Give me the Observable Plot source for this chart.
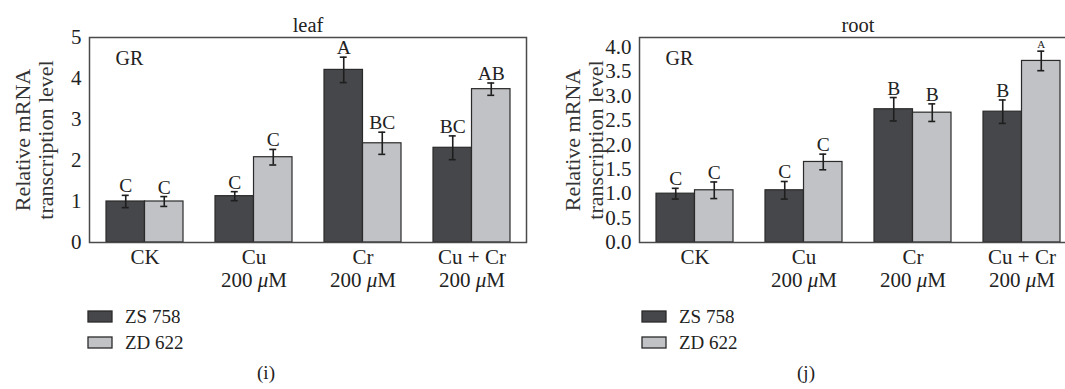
<!DOCTYPE html>
<html>
<head>
<meta charset="utf-8">
<script src="https://cdn.jsdelivr.net/npm/d3@7"></script>
<script src="https://cdn.jsdelivr.net/npm/@observablehq/plot@0.6"></script>
<style>
  html, body { margin: 0; padding: 0; background: #fff; overflow: hidden; width: 1065px; height: 389px; }
  body { position: relative; font-family: "Liberation Serif", serif; color: #222; }
  .panel { position: absolute; top: 0; width: 550px; }
  .legend { position: absolute; top: 306px; }
  .caption { position: absolute; top: 362px; font-size: 19px; transform: translateX(-50%); }
</style>
</head>
<body>
<div id="left" class="panel" style="left:0px"></div>
<div id="right" class="panel" style="left:550px"></div>
<div id="legLeft" class="legend" style="left:88px"></div>
<div id="legRight" class="legend" style="left:642px"></div>
<div class="caption" style="left:266px">(i)</div>
<div class="caption" style="left:806px">(j)</div>
<script>
// ---- data ----
const categories = ["CK", "Cu", "Cr", "Cu + Cr"];
const tickLabels = ["CK", "Cu\n200 μM", "Cr\n200 μM", "Cu + Cr\n200 μM"];
const varieties = ["ZS 758", "ZD 622"];
const colors = ["#46474a", "#c1c2c5"];

const leafZS = [1.00, 1.13, 4.21, 2.31];
const leafZSErr = [0.15, 0.11, 0.31, 0.29];
const leafZSLetters = ["C", "C", "A", "BC"];
const leafZD = [1.00, 2.08, 2.42, 3.74];
const leafZDErr = [0.12, 0.19, 0.27, 0.15];
const leafZDLetters = ["C", "C", "BC", "AB"];

const rootZS = [1.00, 1.07, 2.73, 2.68];
const rootZSErr = [0.11, 0.18, 0.24, 0.24];
const rootZSLetters = ["C", "C", "B", "B"];
const rootZD = [1.07, 1.65, 2.66, 3.72];
const rootZDErr = [0.17, 0.16, 0.18, 0.20];
const rootZDLetters = ["C", "C", "B", "A"];

const leafTicks = [0, 1, 2, 3, 4, 5];
const rootTicks = [0, 0.5, 1, 1.5, 2, 2.5, 3, 3.5, 4];

// ---- layout ----
const W = 550, H = 300, ML = 89, MR = 24, MT = 37, MB = 58;
const padIn = 0.295, padOut = padIn / 2;
const step = (W - ML - MR) / (categories.length - padIn + 2 * padOut);
const bw = step * (1 - padIn);
const FONT = "Liberation Serif";

function rowsFor(vals, errs, letters, variety) {
  return categories.map((c, i) => ({cat: c, variety, v: vals[i], e: errs[i], letter: letters[i]}));
}

function panel({title, yMax, ticks, fmt, series, smallLetter}) {
  const marks = [];
  series.forEach((rows, k) => {
    const off = k === 0 ? -bw / 4 : bw / 4;
    marks.push(Plot.barY(rows, {
      x: "cat", y: "v", fill: "variety", stroke: "#2a2a2a", strokeWidth: 1.2,
      insetLeft: k === 0 ? 0 : bw / 2, insetRight: k === 0 ? bw / 2 : 0
    }));
    marks.push(Plot.ruleX(rows, {x: "cat", y1: d => d.v - d.e, y2: d => d.v + d.e, dx: off, stroke: "#1e1e1e", strokeWidth: 1.6}));
    marks.push(Plot.tickY(rows, {x: "cat", y: d => d.v - d.e, dx: off, insetLeft: bw / 2 - 3.5, insetRight: bw / 2 - 3.5, stroke: "#1e1e1e", strokeWidth: 1.6}));
    marks.push(Plot.tickY(rows, {x: "cat", y: d => d.v + d.e, dx: off, insetLeft: bw / 2 - 3.5, insetRight: bw / 2 - 3.5, stroke: "#1e1e1e", strokeWidth: 1.6}));
    marks.push(Plot.text(rows, {
      x: "cat", y: d => d.v + d.e, dx: off, dy: -3, text: "letter", lineAnchor: "bottom", textAnchor: "middle",
      fontSize: d => (smallLetter && smallLetter(d)) ? 11 : 19.5, fill: "#222"
    }));
  });
  marks.push(Plot.frame({stroke: "#4a4a4a", strokeWidth: 1.5}));
  marks.push(Plot.axisY({ticks, tickFormat: fmt, tickSize: 0, tickPadding: 8, label: null, fontSize: 21}));
  marks.push(Plot.axisX({
    tickSize: 0, tickPadding: 5, label: null, fontSize: 21, lineHeight: 1.1,
    tickFormat: d => tickLabels[categories.indexOf(d)]
  }));
  marks.push(Plot.text([title], {frameAnchor: "top", dy: -12, lineAnchor: "middle", textAnchor: "middle", fontSize: 20.5, fill: "#222"}));
  marks.push(Plot.text(["GR"], {frameAnchor: "top-left", dx: 26, dy: 21, textAnchor: "start", lineAnchor: "middle", fontSize: 20, fill: "#222"}));
  marks.push(Plot.text(["Relative mRNA\ntranscription level"], {
    frameAnchor: "left", rotate: -90, dx: -55.5, textAnchor: "middle", lineAnchor: "middle",
    lineHeight: 1.05, fontSize: 22, fill: "#333"
  }));
  const svg = Plot.plot({
    width: W, height: H,
    marginLeft: ML, marginRight: MR, marginTop: MT, marginBottom: MB,
    style: {fontFamily: FONT, fontSize: "21px", color: "#222", background: "transparent", overflow: "visible", maxWidth: "none"},
    x: {type: "band", domain: categories, paddingInner: padIn, paddingOuter: padOut},
    y: {domain: [0, yMax]},
    color: {domain: varieties, range: colors},
    marks
  });
  italicMu(svg);
  return svg;
}

// render the micro sign in italics, as in the original typesetting
function italicMu(svg) {
  const ns = "http://www.w3.org/2000/svg";
  svg.querySelectorAll("text, tspan").forEach(el => {
    if (el.children.length || !el.textContent.includes("μ")) return;
    const parts = el.textContent.split("μ");
    el.textContent = "";
    parts.forEach((p, i) => {
      if (i > 0) {
        const t = document.createElementNS(ns, "tspan");
        t.setAttribute("font-style", "italic");
        t.textContent = "μ";
        el.appendChild(t);
      }
      if (p) el.appendChild(document.createTextNode(p));
    });
  });
}

function addLegend(chart, el) {
  const leg = chart.legend("color", {swatchWidth: 24, swatchHeight: 11, columns: 1, style: {fontFamily: FONT, fontSize: "19px", color: "#222"}});
  leg.style.fontFamily = FONT;
  leg.style.fontSize = "19px";
  leg.querySelectorAll("svg").forEach(s => {
    s.style.overflow = "visible";
    s.querySelectorAll("rect").forEach(r => { r.setAttribute("stroke", "#2a2a2a"); r.setAttribute("stroke-width", "1.3"); });
    s.style.marginRight = "13px";
  });
  Array.from(leg.children).forEach(c => { if (c.tagName !== "STYLE") { c.style.marginBottom = "4px"; c.style.lineHeight = "21px"; } });
  el.appendChild(leg);
}

const leftChart = panel({
  title: "leaf", yMax: 5, ticks: leafTicks, fmt: d3.format("d"),
  series: [rowsFor(leafZS, leafZSErr, leafZSLetters, varieties[0]), rowsFor(leafZD, leafZDErr, leafZDLetters, varieties[1])]
});
const rightChart = panel({
  title: "root", yMax: 4.2, ticks: rootTicks, fmt: d3.format(".1f"),
  series: [rowsFor(rootZS, rootZSErr, rootZSLetters, varieties[0]), rowsFor(rootZD, rootZDErr, rootZDLetters, varieties[1])],
  smallLetter: d => d.variety === varieties[1] && d.cat === "Cu + Cr"
});
document.getElementById("left").appendChild(leftChart);
document.getElementById("right").appendChild(rightChart);
addLegend(leftChart, document.getElementById("legLeft"));
addLegend(rightChart, document.getElementById("legRight"));
</script>
</body>
</html>
